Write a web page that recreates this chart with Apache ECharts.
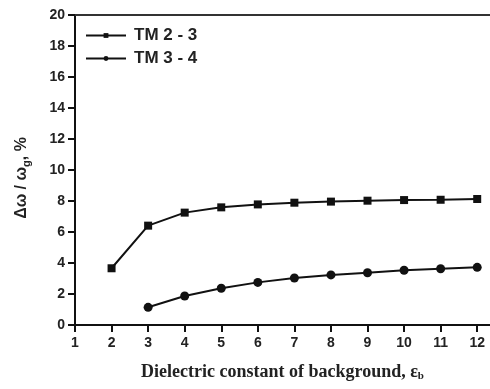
<!DOCTYPE html>
<html>
<head>
<meta charset="utf-8">
<script src="https://cdn.jsdelivr.net/npm/echarts@6/dist/echarts.min.js"></script>
<style>
  html, body { margin: 0; padding: 0; background: #fff; }
  #chart { width: 490px; height: 389px; }
</style>
</head>
<body>
<div id="chart"></div>
<script>
// dielectric constant values (x)
const epsTM23 = [2, 3, 4, 5, 6, 7, 8, 9, 10, 11, 12];
const gapTM23 = [3.66, 6.41, 7.25, 7.59, 7.78, 7.89, 7.96, 8.02, 8.06, 8.08, 8.13];
const epsTM34 = [3, 4, 5, 6, 7, 8, 9, 10, 11, 12];
const gapTM34 = [1.14, 1.87, 2.37, 2.75, 3.03, 3.23, 3.37, 3.53, 3.63, 3.72];
const xTicks = [1, 2, 3, 4, 5, 6, 7, 8, 9, 10, 11, 12];

const pairs = (xs, ys) => xs.map((x, i) => [x, ys[i]]);

const chartDom = document.getElementById('chart');
const myChart = echarts.init(chartDom);
const ink = '#111';
const labelFont = { fontFamily: 'Liberation Sans', fontWeight: 'bold', fontSize: 14, color: '#222' };

const option = {
  animation: false,
  grid: { left: 75, top: 15, right: 0, bottom: 64 },
  legend: {
    orient: 'vertical',
    left: 80,
    top: 22,
    itemWidth: 40,
    itemHeight: 6,
    itemGap: 6,
    textStyle: { fontFamily: 'Liberation Sans', fontWeight: 'bold', fontSize: 17, color: '#222', padding: [0, 0, 0, 3] },
    data: ['TM 2 - 3', 'TM 3 - 4']
  },
  xAxis: [
    {
      type: 'value',
      min: 1,
      max: 12.35,
      interval: 1,
      splitLine: { show: false },
      axisLine: { lineStyle: { color: ink, width: 2 } },
      axisTick: { customValues: xTicks, length: 7, lineStyle: { color: ink, width: 2 } },
      axisLabel: Object.assign({ customValues: xTicks, margin: 11 }, labelFont),
      name: 'Dielectric constant of background, {e|ε}{sub|b}',
      nameLocation: 'middle',
      nameGap: 37,
      nameTextStyle: {
        fontFamily: 'Liberation Serif', fontWeight: 'bold', fontSize: 18, color: '#222',
        rich: {
          e: { fontFamily: 'Liberation Serif', fontWeight: 'bold', fontSize: 18, color: '#222' },
          sub: { fontFamily: 'Liberation Serif', fontWeight: 'bold', fontSize: 11, color: '#222', padding: [9, 0, 0, 0] }
        }
      }
    },
    {
      type: 'value',
      position: 'top',
      min: 1,
      max: 12.35,
      splitLine: { show: false },
      axisLine: { show: true, lineStyle: { color: '#333', width: 2 } },
      axisTick: { show: false },
      axisLabel: { show: false }
    }
  ],
  yAxis: {
    type: 'value',
    min: 0,
    max: 20,
    interval: 2,
    splitLine: { show: false },
    axisLine: { show: true, lineStyle: { color: ink, width: 2 } },
    axisTick: { show: true, length: 7, lineStyle: { color: ink, width: 2 } },
    axisLabel: Object.assign({ margin: 10 }, labelFont),
    name: 'Δω / ω{sub|g}, %',
    nameLocation: 'middle',
    nameGap: 43,
    nameTextStyle: {
      fontFamily: 'Liberation Sans', fontWeight: 'bold', fontSize: 16, color: '#222',
      padding: [0, 16, 0, 0],
      rich: {
        sub: { fontFamily: 'Liberation Sans', fontWeight: 'bold', fontSize: 11, color: '#222', padding: [9, 0, 0, 0] }
      }
    }
  },
  series: [
    {
      name: 'TM 2 - 3',
      type: 'line',
      data: pairs(epsTM23, gapTM23),
      symbol: 'rect',
      symbolSize: 8,
      lineStyle: { color: ink, width: 2 },
      itemStyle: { color: ink }
    },
    {
      name: 'TM 3 - 4',
      type: 'line',
      data: pairs(epsTM34, gapTM34),
      symbol: 'circle',
      symbolSize: 9,
      lineStyle: { color: ink, width: 2 },
      itemStyle: { color: ink }
    }
  ]
};
option && myChart.setOption(option);
</script>
</body>
</html>
